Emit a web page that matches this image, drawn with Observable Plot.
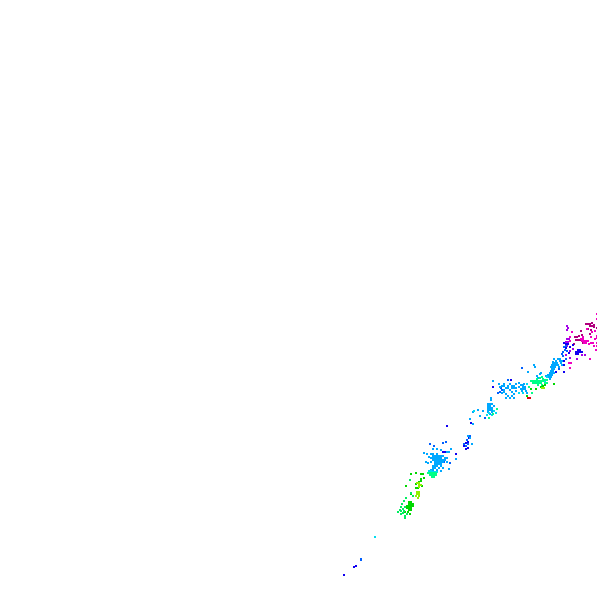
<!DOCTYPE html>
<html><head><meta charset="utf-8">
<style>html,body{margin:0;padding:0;background:#fff}svg{display:block}</style>
<script src="https://cdn.jsdelivr.net/npm/d3@7"></script>
<script src="https://cdn.jsdelivr.net/npm/@observablehq/plot@0.6"></script>
</head><body><div id="chart"></div>
<script>
const plum=[[585,323],[587,323],[589,323],[591,322],[593,324],[591,325],[589,325],[593,326],[596,327],[580,330],[590,329],[574,336],[576,336],[578,335],[589,333],[575,339],[577,339],[579,339],[582,342],[573,343],[587,328],[581,334]];
const magenta=[[596,318],[596,313],[586,328],[591,331],[594,330],[596,335],[596,337],[594,338],[580,338],[582,338],[581,340],[583,340],[585,340],[585,342],[583,342],[588,343],[590,342],[592,342],[596,342],[593,345],[596,345],[595,349],[589,358],[571,331],[569,336],[569,340],[569,367],[570,362],[568,362],[590,336],[582,336],[587,340]];
const purple=[[566,325],[567,327],[566,329],[566,338],[565,341],[567,341],[584,354],[581,354],[576,358],[572,348],[566,345],[569,350],[565,354],[569,357],[568,338]];
const navy=[[563,342],[565,343],[572,344],[569,346],[577,349],[579,349],[577,351],[579,351],[581,351],[575,351],[575,353],[577,353],[568,352],[565,347],[563,360],[563,364],[563,371],[555,371],[541,386],[442,451],[444,451],[455,453],[510,379],[492,386],[470,422],[463,445],[465,448],[467,447],[465,442],[467,441],[468,437],[343,574],[353,566],[355,565],[446,425],[567,343],[565,345]];
const blue=[[565,345],[563,346],[566,350],[561,353],[562,355],[560,360],[565,358],[558,368],[507,379],[499,391],[497,392],[501,389],[500,387],[484,417],[463,443],[465,445],[467,443],[466,439],[469,435],[360,559],[360,558],[521,367],[433,445],[445,441],[442,442],[429,443],[443,461],[449,462],[564,349],[562,351]];
const azure=[[552,361],[553,358],[557,358],[559,358],[555,360],[559,360],[561,360],[552,362],[554,362],[556,362],[560,362],[551,364],[553,364],[555,364],[557,364],[561,364],[550,366],[552,366],[554,366],[558,366],[551,368],[553,368],[550,370],[552,370],[549,372],[551,372],[553,372],[547,374],[549,374],[551,374],[546,375],[548,376],[550,376],[549,378],[536,375],[540,372],[545,375],[533,364],[534,366],[527,371],[539,373],[537,377],[520,384],[522,384],[518,386],[522,386],[524,386],[520,388],[522,388],[524,388],[521,390],[525,390],[526,392],[523,383],[503,383],[507,385],[509,383],[511,385],[513,385],[515,383],[503,385],[499,386],[501,385],[505,387],[507,387],[511,387],[513,387],[515,387],[503,389],[509,389],[503,391],[505,393],[507,395],[509,397],[511,395],[513,393],[511,391],[501,392],[513,397],[505,397],[498,383],[515,390],[518,382],[492,380],[490,397],[490,399],[487,403],[489,403],[489,405],[491,403],[487,405],[489,407],[491,407],[493,405],[487,407],[487,409],[489,409],[491,409],[487,411],[491,411],[489,413],[472,411],[477,409],[482,410],[479,415],[469,418],[472,423],[467,435],[469,437],[471,443],[432,448],[436,448],[440,449],[446,451],[426,453],[430,453],[432,453],[436,453],[432,455],[434,455],[436,455],[438,455],[440,455],[442,455],[428,456],[430,457],[432,457],[434,457],[436,457],[438,457],[440,457],[444,457],[446,457],[432,459],[434,459],[436,459],[438,459],[440,459],[442,459],[444,459],[427,462],[430,461],[434,461],[436,461],[438,461],[440,461],[442,461],[446,461],[434,463],[436,463],[438,463],[440,463],[432,465],[434,465],[436,465],[440,465],[432,467],[434,467],[438,467],[442,467],[448,468],[430,469],[432,469],[436,469],[440,470],[450,448],[448,451],[455,458],[423,452],[425,461]];
const cyan=[[541,380],[526,383],[374,536],[544,381],[493,410],[495,412],[473,410],[430,470],[432,471],[434,471],[436,471],[491,414],[546,376],[488,412],[486,414],[428,470],[522,392],[518,392]];
const mint=[[530,380],[532,380],[534,380],[536,380],[538,380],[540,380],[542,380],[532,382],[534,382],[536,382],[538,382],[540,382],[544,379],[546,379],[542,378],[544,382],[546,382],[528,386],[536,378],[539,377],[541,376],[531,392],[496,408],[488,417],[492,413],[427,472],[429,472],[431,472],[433,472],[435,472],[429,474],[431,474],[433,474],[435,474],[431,476],[433,476],[541,384],[537,384]];
const green=[[542,385],[544,384],[540,386],[535,388],[530,388],[526,395],[553,383],[420,473],[422,473],[423,477],[418,481],[420,480],[420,478],[415,483],[421,485],[415,487],[417,487],[410,493],[405,485],[410,473],[415,472],[408,501],[410,501],[408,503],[410,503],[412,503],[406,505],[408,505],[410,505],[412,505],[406,507],[408,507],[410,507],[408,509],[410,509],[404,511],[409,513],[407,511]];
const lime=[[541,387],[543,387],[416,482],[418,482],[418,484],[420,484],[418,486],[416,491],[418,491],[416,493],[418,493],[415,495],[418,495],[417,497]];
const spring=[[405,497],[403,500],[401,503],[400,506],[402,508],[404,506],[400,510],[397,511],[399,509],[402,512],[404,515],[404,517],[406,513],[400,513],[409,479],[410,492],[412,495],[403,510]];
const red=[[527,397],[529,397]];
const seriesColors=["#b0007c","#f000c0","#a400e8","#1000f0","#0060ff","#00a8ff","#00dcf0","#00ff88","#00d800","#90f000","#00ee60","#e00010"];
const seriesPoints=[plum,magenta,purple,navy,blue,azure,cyan,mint,green,lime,spring,red];
const rows=seriesPoints.flatMap((pts,i)=>pts.map(([x,y])=>({x,y,c:seriesColors[i]})));
const chart=Plot.plot({width:597,height:589,margin:0,
 x:{domain:[0,597],range:[0,597],axis:null},y:{domain:[0,589],range:[0,589],axis:null},
 style:{background:"#fff"},
 marks:[Plot.rect(rows,{x1:"x",x2:d=>d.x+2.4,y1:"y",y2:d=>d.y+2.4,fill:"c",shapeRendering:"crispEdges"})]});
document.getElementById("chart").append(chart);
</script></body></html>
